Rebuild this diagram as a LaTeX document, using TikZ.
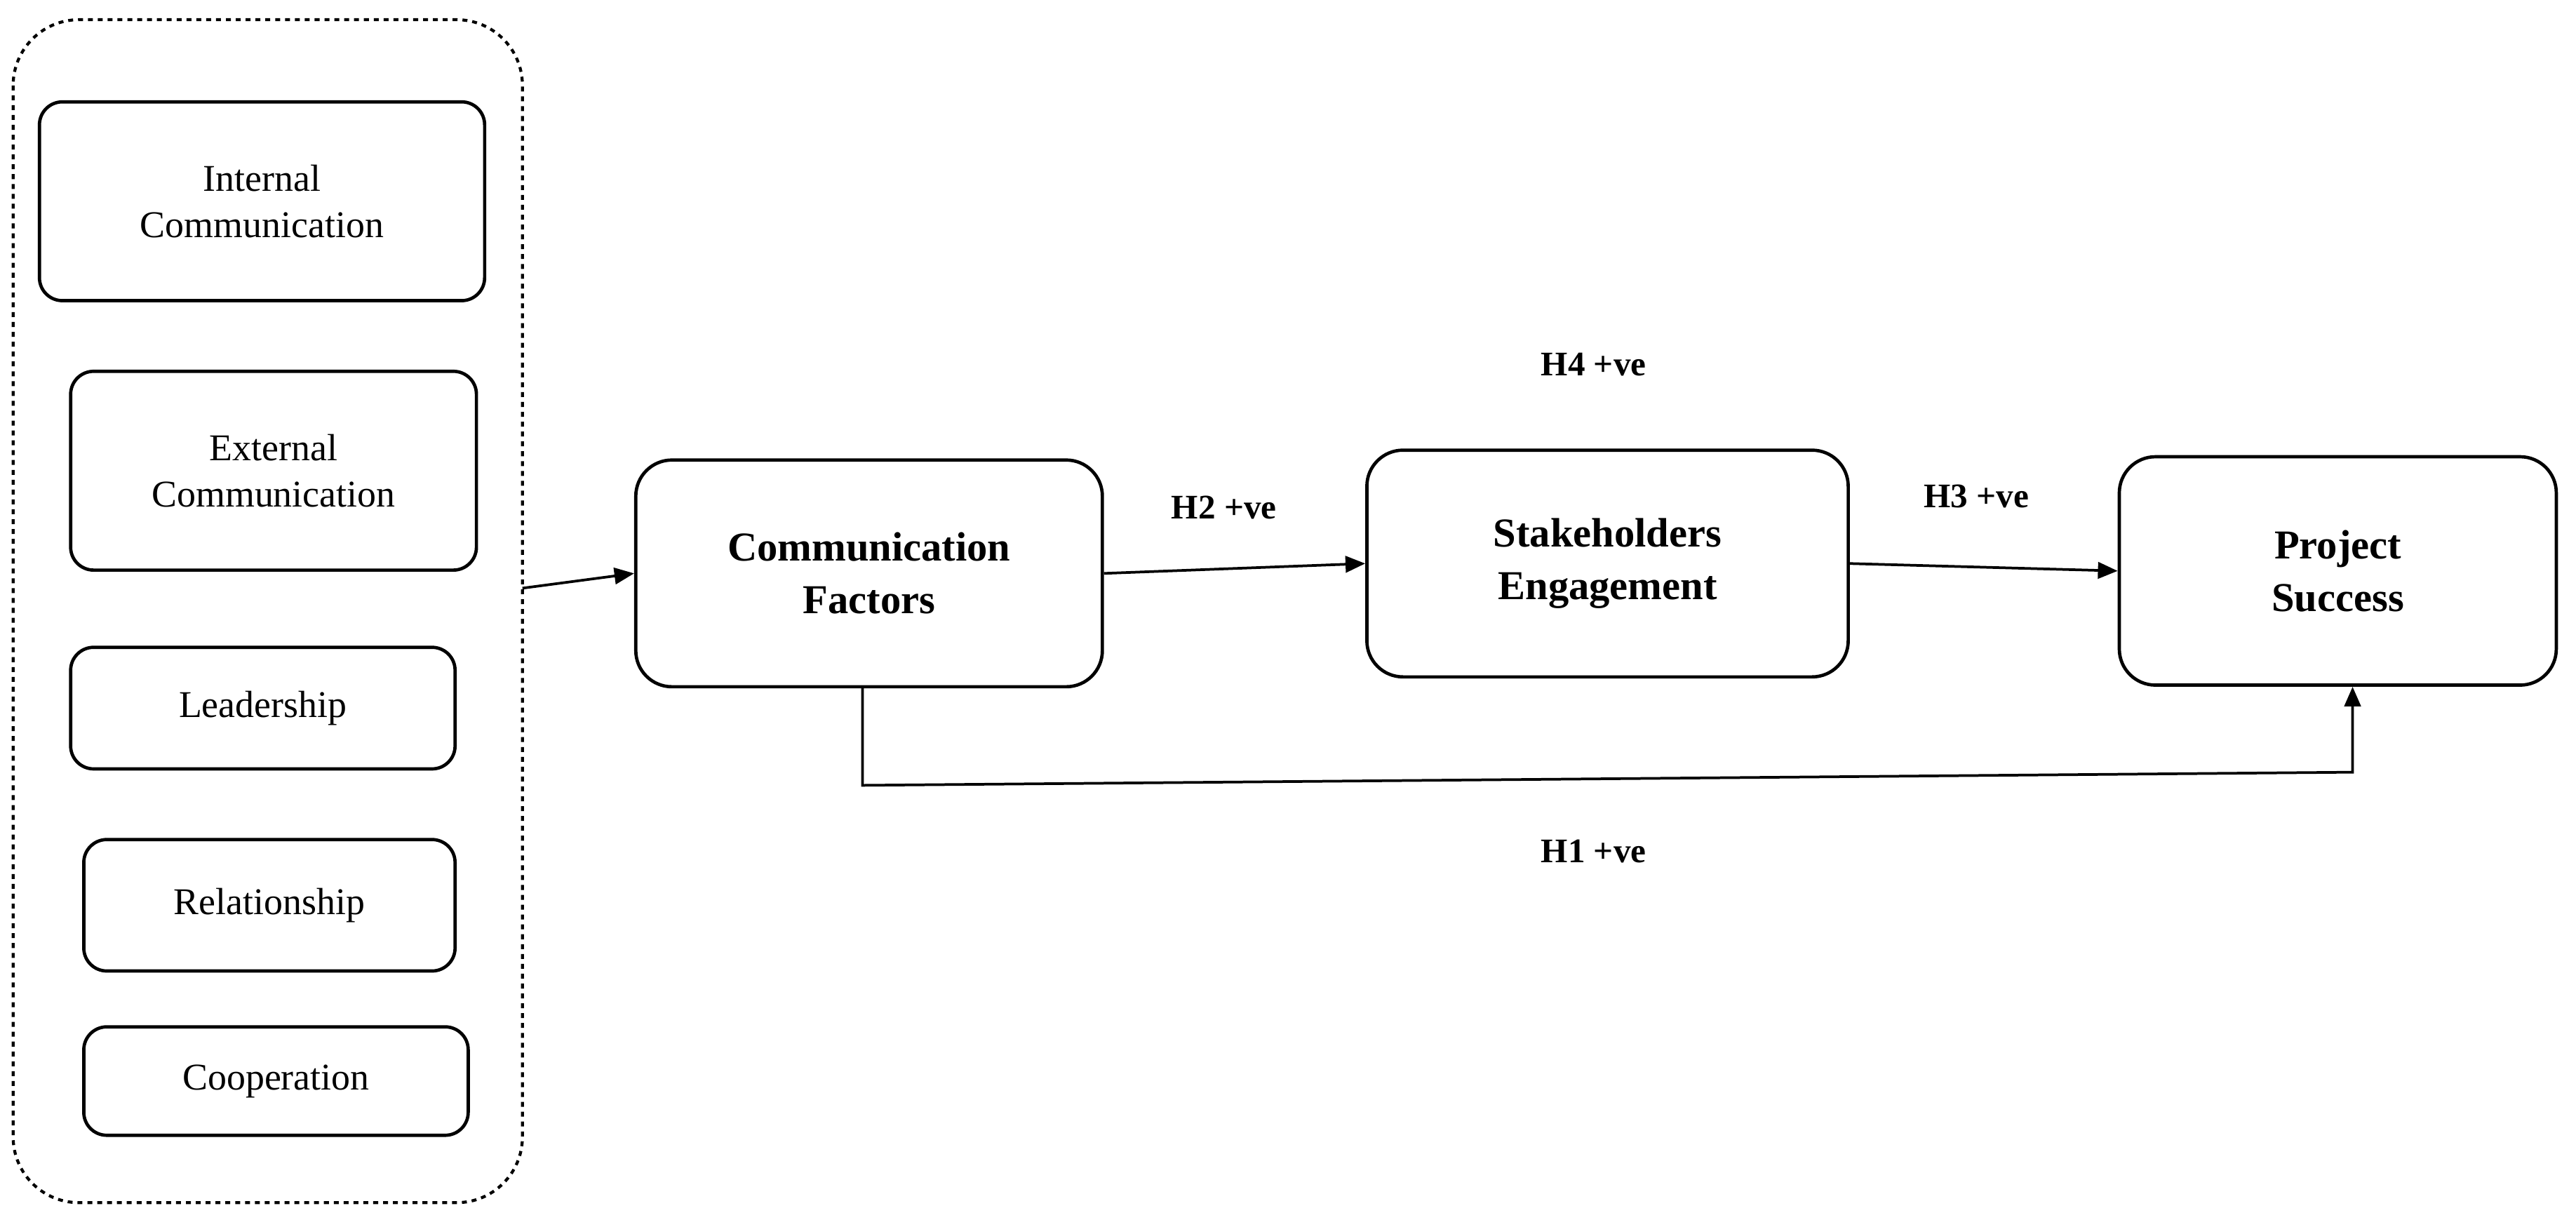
\documentclass[tikz,border=0pt]{standalone}
\usepackage{fontspec}
\setmainfont{Liberation Serif}
\usetikzlibrary{arrows.meta}
\begin{document}
\begin{tikzpicture}[x=1pt,y=-1pt,
  sbox/.style={draw,line width=2pt,rounded corners=14pt,align=center,font=\fontsize{23}{28}\selectfont},
  mbox/.style={draw,line width=2pt,rounded corners=22pt,align=center,font=\bfseries\fontsize{25}{32}\selectfont},
  lab/.style={font=\bfseries\fontsize{21}{25}\selectfont},
  arr/.style={line width=1.6pt,-{Triangle[length=12pt,width=10pt]}}]
\useasboundingbox (0,0) rectangle (1568,738);
\draw[dashed,line width=1.8pt,rounded corners=40pt] (8,12) rectangle (318,732);
\node[sbox,minimum width=271pt,minimum height=121pt] (ic) at (159.5,122.5) {Internal\\Communication};
\node[sbox,minimum width=247pt,minimum height=121pt] (ec) at (166.5,286.5) {External\\Communication};
\node[sbox,minimum width=234pt,minimum height=74pt] (ld) at (160,431) {Leadership};
\node[sbox,minimum width=226pt,minimum height=80pt] (rl) at (164,551) {Relationship};
\node[sbox,minimum width=234pt,minimum height=66pt] (co) at (168,658) {Cooperation};
\node[mbox,minimum width=284pt,minimum height=138pt] (cf) at (529,349) {Communication\\Factors};
\node[mbox,minimum width=293pt,minimum height=138pt] (se) at (978.5,343) {Stakeholders\\Engagement};
\node[mbox,minimum width=266pt,minimum height=139pt] (ps) at (1423,347.5) {Project\\Success};
\coordinate (gs) at (318,358);
\draw[arr] (gs) -- (cf.west);
\draw[arr] (cf.east) -- (se.west);
\draw[arr] (se.east) -- (ps.west);
\coordinate (b1) at (525,478);
\coordinate (b2) at (1432,470);
\draw[arr] (cf.south -| b1) -- (b1) -- (b2) -- (ps.south -| b2);
\node[lab] (h2) at (745,309) {H2 +ve};
\node[lab] (h3) at (1203,302) {H3 +ve};
\node[lab] (h4) at (970,222) {H4 +ve};
\node[lab] (h1) at (970,518) {H1 +ve};
\end{tikzpicture}
\end{document}
